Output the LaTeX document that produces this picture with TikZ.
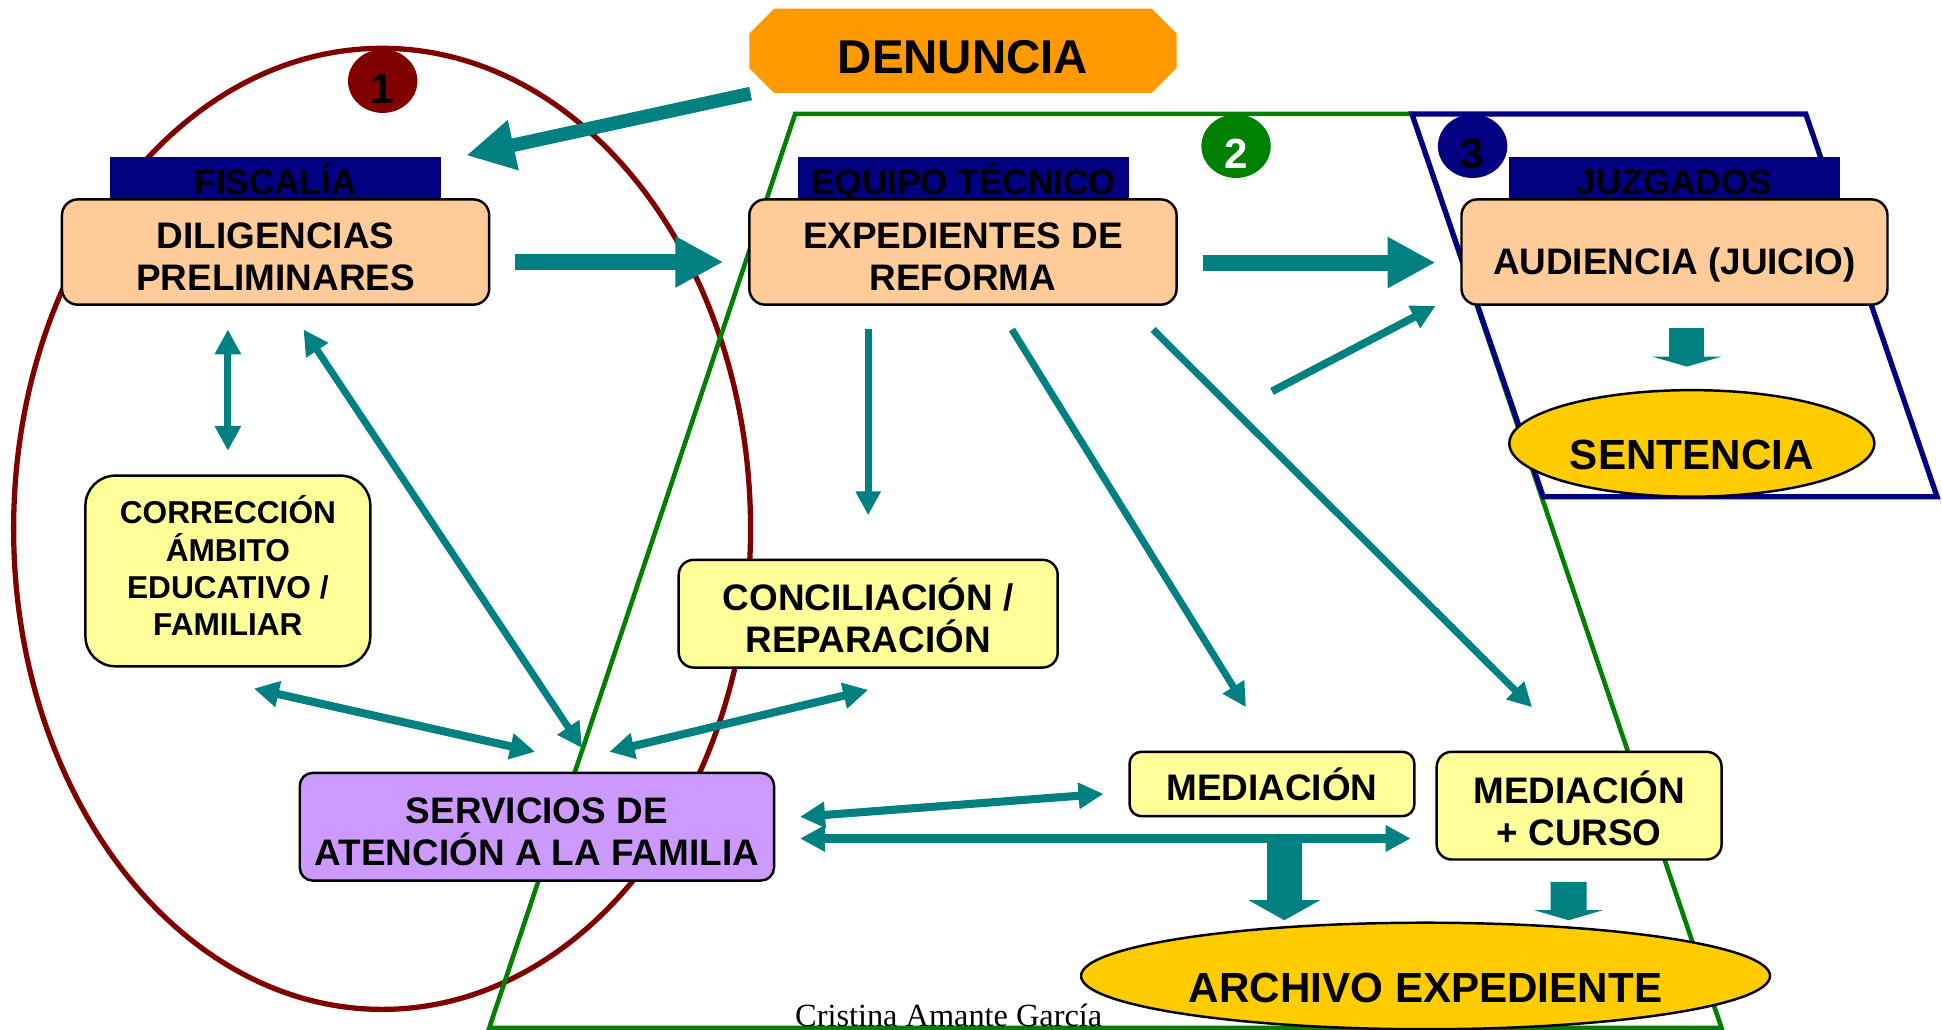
\documentclass[tikz,border=0pt]{standalone}
\usepackage{fontspec}
\setmainfont{Liberation Sans}
\newfontfamily\firmafont{Liberation Serif}
\usetikzlibrary{shapes.geometric,arrows.meta,calc}
\definecolor{naranja}{HTML}{FF9900}
\definecolor{salmon}{HTML}{FFCC99}
\definecolor{amarillo}{HTML}{FFFF99}
\definecolor{lila}{HTML}{CC99FF}
\definecolor{oro}{HTML}{FFCC00}
\definecolor{turquesa}{HTML}{008080}
\definecolor{marino}{HTML}{000080}
\definecolor{granate}{HTML}{800000}
\definecolor{verde}{HTML}{008000}
\begin{document}
\begin{tikzpicture}[x=0.12385mm,y=-0.12385mm]
  \tikzstyle{caja}=[rectangle,rounded corners=1.6mm,draw=black,line width=0.7pt,align=center,inner sep=0pt,text height=7.73mm,text depth=0pt,font=\fontsize{10.5}{12}\selectfont\bfseries]
  \tikzstyle{cabecera}=[rectangle,fill=marino,inner sep=0pt,minimum width=33.07mm,minimum height=4.95mm,text height=2.5mm,text depth=0pt,font=\fontsize{10}{12}\selectfont\bfseries]
  \tikzstyle{marca}=[ellipse,inner sep=0pt,minimum width=6.94mm,minimum height=6.19mm,text height=4.5mm,text depth=0pt,font=\fontsize{12}{14}\selectfont\bfseries]
  \tikzstyle{resultado}=[ellipse,draw=black,line width=0.7pt,fill=oro,inner sep=0pt,minimum height=10.65mm,text depth=0pt,font=\fontsize{12}{14}\selectfont\bfseries]
  \tikzstyle{flecha}=[turquesa,line width=2pt,-{Triangle[length=2.4mm,width=2.4mm]}]
  \tikzstyle{doble}=[turquesa,line width=2.3pt,{Triangle[length=2.5mm,width=2.5mm]}-{Triangle[length=2.5mm,width=2.5mm]}]
  \tikzstyle{gruesa}=[turquesa,-{Triangle[length=4.8mm,width=4.8mm]}]
  \tikzstyle{bloque}=[turquesa,line width=3.5mm]
  \useasboundingbox (0,0) rectangle (1568,831);
  \draw[granate,line width=1.5pt] (308.5,427) ellipse [x radius=297.5,y radius=388];
  \draw[verde,line width=1.3pt] (642,92) -- (1140,92) -- (1390,830) -- (395,830) -- cycle;
  \draw[marino,line width=1.5pt] (1140,92) -- (1458,92) -- (1564,401) -- (1246,401) -- cycle;
  \fill[naranja] (605,27) -- (625,7) -- (930,7) -- (950,27) -- (950,55) -- (930,75) -- (625,75) -- (605,55) -- cycle;
  \node[rectangle,inner sep=0pt,minimum width=42.73mm,minimum height=8.42mm,text height=4.5mm,text depth=0pt,font=\fontsize{13.5}{16}\selectfont\bfseries] (den) at (777.5,41) {DENUNCIA};
  \node[cabecera] (fis) at (222.5,147) {FISCALÍA};
  \node[cabecera] (equ) at (778,147) {EQUIPO TÉCNICO};
  \node[cabecera] (juz) at (1352,147) {JUZGADOS};
  \node[caja,fill=salmon,minimum width=42.73mm,minimum height=10.53mm] (dil) at (222.5,203.5) {DILIGENCIAS\\PRELIMINARES};
  \node[caja,fill=salmon,minimum width=42.73mm,minimum height=10.53mm] (exp) at (777.5,203.5) {EXPEDIENTES DE\\REFORMA};
  \node[caja,fill=salmon,minimum width=42.6mm,minimum height=10.53mm,text height=4.52mm] (aud) at (1352,203.5) {AUDIENCIA (JUICIO)};
  \node[caja,fill=amarillo,minimum width=28.49mm,minimum height=19.07mm,rounded corners=3mm,text height=12.93mm,font=\fontsize{9}{10.6}\selectfont\bfseries] (cor) at (184,461) {CORRECCIÓN\\ÁMBITO\\EDUCATIVO /\\FAMILIAR};
  \node[caja,fill=amarillo,minimum width=37.9mm,minimum height=10.77mm,rounded corners=1.5mm] (con) at (701,495.5) {CONCILIACIÓN /\\REPARACIÓN};
  \node[caja,fill=lila,minimum width=47.43mm,minimum height=10.77mm,rounded corners=1.3mm] (ser) at (433.5,667.5) {SERVICIOS DE\\ATENCIÓN A LA FAMILIA};
  \node[caja,fill=amarillo,minimum width=28.49mm,minimum height=6.44mm,rounded corners=1.2mm,text height=3.4mm] (med) at (1027,633) {MEDIACIÓN};
  \node[caja,fill=amarillo,minimum width=28.49mm,minimum height=10.77mm,rounded corners=1.5mm,text height=7.97mm] (mec) at (1275,650.5) {MEDIACIÓN\\+ CURSO};
  \node[resultado,minimum width=36.5mm,text height=5.2mm] (sen) at (1366,358) {SENTENCIA};
  \node[resultado,minimum width=68.9mm,text height=5.4mm] (arc) at (1151,788) {ARCHIVO EXPEDIENTE};
  \node[marca,fill=granate] (m1) at (309,65.5) {1};
  \node[marca,fill=verde,text=white] (m2) at (998,118) {2};
  \node[marca,fill=marino] (m3) at (1189,118) {3};
  \draw[gruesa,line width=1.36mm] ($(den.south)+(-171.5,0)$) -- ($(fis.north east)+(20,-1)$);
  \draw[gruesa,line width=1.6mm] ($(dil.east)+(20,8)$) -- ($(exp.west)+(-20,8)$);
  \draw[gruesa,line width=1.6mm] ($(exp.east)+(20,8.5)$) -- ($(aud.west)+(-20,8.5)$);
  \draw[flecha,line width=2.2pt] ($(aud.south west)+(-152,69)$) -- ($(aud.south west)+(-20,0)$);
  \draw[bloque,-{Triangle[length=1mm,width=6.9mm]}] ($(aud.south)+(10,18)$) -- ($(sen.north)+(-4,-18)$);
  \draw[doble,line width=2pt] ($(dil.south -| cor.north)+(0,19)$) -- ($(cor.north)+(0,-19)$);
  \draw[doble,line width=2pt] ($(dil.south)+(22.5,19)$) -- ($(ser.north)+(36.5,-19)$);
  \draw[flecha] ($(exp.south -| con.north)+(0,19)$) -- ($(con.north)+(0,-35)$);
  \draw[flecha] ($(exp.south)+(39.5,19)$) -- ($(med.north)+(-21,-35)$);
  \draw[flecha] ($(exp.south)+(153.5,19)$) -- ($(mec.north)+(-38,-35)$);
  \draw[doble] ($(cor.south)+(21,17)$) -- ($(ser.north)+(-1.5,-16)$);
  \draw[doble] ($(con.south)+(0,17)$) -- ($(ser.north)+(58.5,-16)$);
  \draw[doble] ($(ser.east)+(20,-8)$) -- ($(med.west)+(-20,8)$);
  \draw[doble] ($(ser.east)+(20,9.5)$) -- ($(mec.west)+(-20,26.5)$);
  \draw[bloque,-{Triangle[length=2mm,width=7.06mm]}] ($(arc.north)+(-114,-67)$) -- ($(arc.north)+(-114,-1)$);
  \draw[bloque,line width=3.6mm,-{Triangle[length=1mm,width=6.8mm]}] ($(mec.south)+(-8.5,17)$) -- ($(arc.north)+(115.5,-1)$);
  \node[font=\firmafont\fontsize{9.2}{11}\selectfont,anchor=base,inner sep=0pt] (firma) at (766,829) {Cristina Amante García};
\end{tikzpicture}
\end{document}
